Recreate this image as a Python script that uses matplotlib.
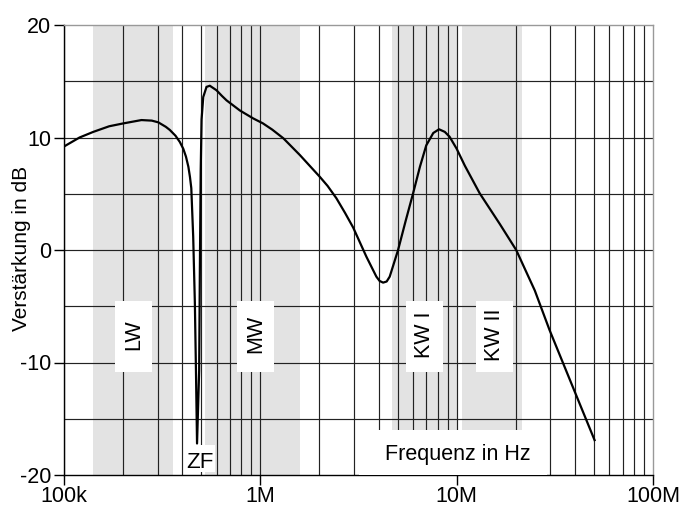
import matplotlib
matplotlib.use('Agg')
import matplotlib.pyplot as plt
from matplotlib.patches import Rectangle
import numpy as np

plt.rcParams['font.family'] = ['Liberation Sans', 'DejaVu Sans']

# ---- data ----
freq_hz = [100e3, 120e3, 141e3, 170e3, 200e3, 248e3, 280e3, 302e3, 330e3, 346e3,
           370e3, 389e3, 405e3, 418e3, 430e3, 438e3, 445e3, 455e3, 464e3, 470e3,
           476e3, 488e3, 492e3, 497e3, 502e3, 512e3, 532e3, 553e3, 598e3, 637e3,
           673e3, 787e3, 919e3, 1.03e6, 1.15e6, 1.31e6, 1.59e6, 2.01e6, 2.2e6, 2.44e6,
           2.7e6, 2.97e6, 3.47e6, 3.9e6, 4.05e6, 4.22e6, 4.4e6, 4.56e6, 5.03e6,
           5.5e6, 6.0e6, 6.5e6, 7.0e6, 7.6e6, 8.13e6, 8.7e6, 9.2e6, 10e6, 11e6,
           13.1e6, 16.6e6, 20.1e6, 25e6, 29.7e6, 39.1e6, 50.4e6]
gain_db = [9.2, 10.0, 10.5, 11.0, 11.25, 11.55, 11.5, 11.35, 10.95, 10.67,
           10.15, 9.6, 9.0, 8.3, 7.4, 6.5, 5.5, 1.2, -4.7, -10.7,
           -17.2, -10.7, -1.8, 7.1, 11.6, 13.6, 14.5, 14.6, 14.2, 13.7,
           13.3, 12.4, 11.7, 11.26, 10.7, 9.93, 8.44, 6.5, 5.7, 4.6,
           3.3, 2.0, -0.6, -2.37, -2.75, -2.9, -2.8, -2.37, 0.0,
           2.6, 5.04, 7.4, 9.3, 10.4, 10.73, 10.5, 10.07, 9.0, 7.5,
           5.04, 2.3, 0.0, -3.6, -7.1, -12.2, -16.9]

band_names = ['LW', 'MW', 'KW I', 'KW II']
band_start_hz = [141e3, 525e3, 4.68e6, 10.6e6]
band_end_hz = [357e3, 1.6e6, 10.0e6, 21.4e6]
band_bottom_db = [-20, -20, -16, -16]
band_label_hz = [226e3, 944e3, 6.87e6, 15.6e6]

yticks = [-20, -10, 0, 10, 20]
ytick_labels = ['-20', '-10', '0', '10', '20']
xticks = [1e5, 1e6, 1e7, 1e8]
xtick_labels = ['100k', '1M', '10M', '100M']

# ---- figure ----
fig = plt.figure(figsize=(6.85, 5.08), dpi=100)
ax = fig.add_axes([64/685, 1-475/508, (653-64)/685, (475-25)/508])
ax.set_xscale('log')
ax.set_xlim(1e5, 1e8)
ax.set_ylim(-20, 20)

# grey frequency bands
for s, e, b in zip(band_start_hz, band_end_hz, band_bottom_db):
    ax.add_patch(Rectangle((s, b), e - s, 20 - b, facecolor='#e3e3e3',
                           edgecolor='none', zorder=0.5))

# grid
grid_col = '#222222'
for dec in [1e5, 1e6, 1e7]:
    for m in range(1, 10):
        ax.axvline(dec * m, color=grid_col, lw=0.85, zorder=1)
for yv in np.arange(-15, 20, 5):
    ax.axhline(yv, color=grid_col, lw=0.85, zorder=1)

# band label boxes
half = 0.094
for name, c in zip(band_names, band_label_hz):
    x0 = c / 10**half
    x1 = c * 10**half
    ax.add_patch(Rectangle((x0, -10.8), x1 - x0, 6.3, facecolor='white',
                           edgecolor='none', zorder=2))
    ax.text(c, -7.5, name, rotation=90, ha='center', va='center',
            fontsize=15.5, zorder=5)

# curve
ax.plot(freq_hz, gain_db, color='black', lw=1.6, zorder=3,
        solid_joinstyle='round')

# ZF label
ax.add_patch(Rectangle((413e3, -19.75), 586e3 - 413e3, 2.45, facecolor='white',
                       edgecolor='none', zorder=4))
ax.text(492e3, -19.4, 'ZF', ha='center', va='baseline', fontsize=16, zorder=5)

# axis title box
ax.add_patch(Rectangle((3.17e6, -20), 28.8e6 - 3.17e6, 4.0, facecolor='white',
                       edgecolor='none', zorder=4))
ax.text(10.15e6, -18.67, 'Frequenz in Hz', ha='center', va='baseline',
        fontsize=15.5, zorder=5)

# spines / ticks
for side in ['top', 'right']:
    ax.spines[side].set_color('#999999')
    ax.spines[side].set_linewidth(1.0)
for side in ['left', 'bottom']:
    ax.spines[side].set_color('black')
    ax.spines[side].set_linewidth(1.0)

ax.set_yticks(yticks)
ax.set_yticklabels(ytick_labels)
ax.set_xticks(xticks)
ax.set_xticklabels(xtick_labels)
ax.xaxis.set_minor_locator(matplotlib.ticker.NullLocator())
ax.tick_params(axis='both', which='major', length=7, width=1.0,
               labelsize=15.5, color='black')
ax.tick_params(axis='y', pad=2)
ax.tick_params(axis='x', pad=1)

ax.set_ylabel('Verstärkung in dB', fontsize=15)
ax.yaxis.set_label_coords(-0.056, 0.503)

fig.savefig('out.png', dpi=100)
